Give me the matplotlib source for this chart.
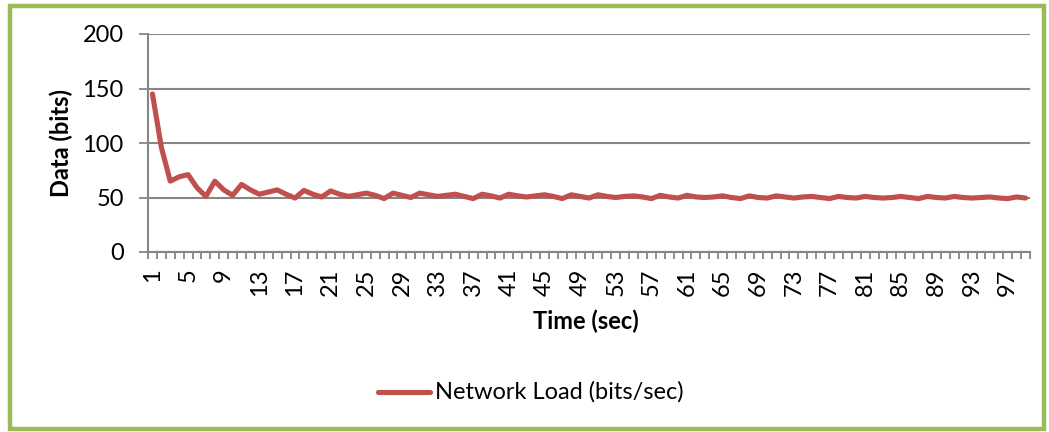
import matplotlib
matplotlib.use("Agg")
import matplotlib.pyplot as plt
from matplotlib.patches import Rectangle
from matplotlib.lines import Line2D

plt.rcParams['font.family'] = ['Lato', 'DejaVu Sans']

time_sec = list(range(1, 100))
network_load = [145, 96, 65, 69, 71, 59, 51, 65, 57, 52,
                62, 57, 53, 55, 57, 53, 49.5, 56.5, 53, 50.5,
                56, 53, 51, 52.5, 54, 52, 49, 54, 52, 50,
                54, 52.5, 51, 52, 53, 51, 49, 53, 51.5, 49.5,
                53, 51.5, 50.5, 51.5, 52.5, 51, 49, 52.5, 51, 49.5,
                52.5, 51, 50, 51, 51.5, 50.5, 49, 52, 50.5, 49.5,
                52, 50.5, 50, 50.5, 51.5, 50, 49, 51.5, 50, 49.5,
                51.5, 50.5, 49.5, 50.5, 51, 50, 49, 51, 50, 49.5,
                51, 50, 49.5, 50, 51, 50, 49, 51, 50, 49.5,
                51, 50, 49.5, 50, 50.5, 49.5, 49, 50.5, 49.5]
y_ticks = [0, 50, 100, 150, 200]
x_labels = list(range(1, 100, 4))
series_name = "Network Load (bits/sec)"
x_title = "Time (sec)"
y_title = "Data (bits)"

W, H = 1049, 432
fig = plt.figure(figsize=(W / 100, H / 100), dpi=100)

def px(x, y):
    return x / W, 1 - y / H

FS = 17

# chart border
fig.patches.append(Rectangle(px(10, 429), (1044 - 10) / W, (429 - 6) / H,
                             transform=fig.transFigure, fill=False,
                             edgecolor='#9BBB59', linewidth=3.2))

left, right, top, bottom = 148, 1030, 34, 252
ax = fig.add_axes([left / W, 1 - bottom / H, (right - left) / W, (bottom - top) / H])

line_color = '#C0504D'
grid_color = '#868686'

ax.plot(time_sec, network_load, color=line_color, linewidth=3.7,
        solid_joinstyle='round', solid_capstyle='round', zorder=3)

ax.set_xlim(0.5, len(time_sec) + 0.5)
ax.set_ylim(0, 200)
ax.set_yticks(y_ticks)
ax.set_yticklabels([str(v) for v in y_ticks], fontsize=FS)
ax.yaxis.grid(True, color=grid_color, linewidth=1.5)
ax.set_axisbelow(True)

ax.set_xticks(x_labels)
ax.set_xticklabels([str(v) for v in x_labels], rotation=90, fontsize=FS)
ax.set_xticks([i + 0.5 for i in range(0, len(time_sec) + 1)], minor=True)
ax.tick_params(axis='x', which='major', length=0, pad=12)
ax.tick_params(axis='x', which='minor', length=5, width=1.3, color=grid_color, direction='out')
ax.tick_params(axis='y', which='major', length=6.5, width=1.3, color=grid_color, pad=11)

for s in ['top', 'right']:
    ax.spines[s].set_visible(False)
for s in ['left', 'bottom']:
    ax.spines[s].set_color(grid_color)
    ax.spines[s].set_linewidth(1.5)

fig.text(*px(586, 321), x_title, fontsize=FS, fontweight='bold', ha='center', va='center')
fig.text(*px(61, 143), y_title, fontsize=FS, fontweight='bold', ha='center', va='center',
         rotation=90)

# legend
fig.add_artist(Line2D([378 / W, 430 / W], [1 - 392 / H, 1 - 392 / H],
                      transform=fig.transFigure, color=line_color, linewidth=3.7,
                      solid_capstyle='round'))
fig.text(*px(435, 392), series_name, fontsize=FS, ha='left', va='center')

fig.savefig("out.png", dpi=100)
